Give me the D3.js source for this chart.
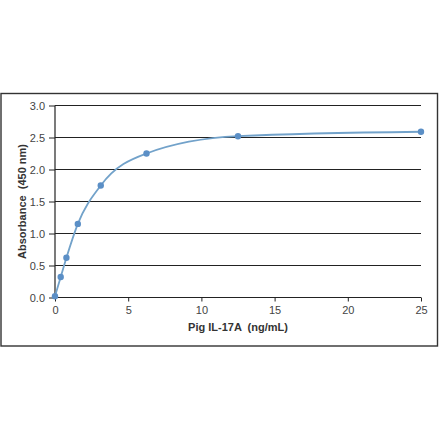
<!DOCTYPE html>
<html>
<head>
<meta charset="utf-8">
<script src="https://cdn.jsdelivr.net/npm/d3@7"></script>
<style>
  body { margin: 0; background: #fff; }
  svg { display: block; font-family: "Liberation Sans", Arial, sans-serif; }
</style>
</head>
<body>
<svg id="chart" width="440" height="441"></svg>
<script>
// standard curve readings
var concentration = [0, 0.39, 0.78, 1.56, 3.125, 6.25, 12.5, 25];
var absorbance = [0.02, 0.32, 0.62, 1.15, 1.75, 2.25, 2.52, 2.59];
var xTicks = [0, 5, 10, 15, 20, 25];
var yTicks = [0, 0.5, 1, 1.5, 2, 2.5, 3];

var svg = d3.select("#chart");

var box = { left: 1, top: 93.5, right: 437.5, bottom: 346 };
var plot = { left: 55, right: 421, top: 105.5, bottom: 297.5 };

svg.append("rect")
  .attr("x", box.left)
  .attr("y", box.top)
  .attr("width", box.right - box.left)
  .attr("height", box.bottom - box.top)
  .attr("fill", "none")
  .attr("stroke", "#333")
  .attr("stroke-width", 1.4);

var x = d3.scaleLinear().domain([0, 25]).range([plot.left, plot.right]);
var y = d3.scaleLinear().domain([0, 3]).range([plot.bottom, plot.top]);

// gridlines
svg.append("g")
  .selectAll("line")
  .data(yTicks.filter(function(d) { return d > 0; }))
  .enter().append("line")
  .attr("x1", plot.left)
  .attr("x2", plot.right)
  .attr("y1", function(d) { return y(d); })
  .attr("y2", function(d) { return y(d); })
  .attr("stroke", "#222")
  .attr("stroke-width", 1.1);

var yAxis = svg.append("g")
  .attr("transform", "translate(" + plot.left + ",0)")
  .call(d3.axisLeft(y).tickValues(yTicks).tickSize(6).tickPadding(4)
    .tickFormat(d3.format(".1f")));

var xAxis = svg.append("g")
  .attr("transform", "translate(0," + plot.bottom + ")")
  .call(d3.axisBottom(x).tickValues(xTicks).tickSize(4).tickPadding(5));

[yAxis, xAxis].forEach(function(a) {
  a.select(".domain").attr("stroke", "#222").attr("stroke-width", 1.2);
  a.selectAll(".tick line").attr("stroke", "#222");
  a.selectAll(".tick text")
    .attr("fill", "#444")
    .style("font-size", "11px")
    .style("font-family", "'Liberation Sans', Arial, sans-serif");
});
yAxis.select(".domain").attr("d", "M0," + plot.bottom + "V" + plot.top);
xAxis.select(".domain").attr("d", "M" + plot.left + ",0H" + plot.right);

// axis titles
svg.append("text")
  .attr("transform", "translate(26," + ((plot.top + plot.bottom) / 2) + ") rotate(-90)")
  .attr("text-anchor", "middle")
  .attr("fill", "#333")
  .style("font-size", "11px")
  .style("font-weight", "bold")
  .style("white-space", "pre")
  .text("Absorbance  (450 nm)");

svg.append("text")
  .attr("x", (plot.left + plot.right) / 2)
  .attr("y", 331)
  .attr("text-anchor", "middle")
  .attr("fill", "#333")
  .style("font-size", "11px")
  .style("font-weight", "bold")
  .style("white-space", "pre")
  .text("Pig IL-17A  (ng/mL)");

var points = concentration.map(function(c, i) { return [c, absorbance[i]]; });

var line = d3.line()
  .x(function(d) { return x(d[0]); })
  .y(function(d) { return y(d[1]); })
  .curve(d3.curveMonotoneX);

svg.append("path")
  .attr("d", line(points))
  .attr("fill", "none")
  .attr("stroke", "#72a2ca")
  .attr("stroke-width", 1.8);

svg.append("g")
  .selectAll("circle")
  .data(points)
  .enter().append("circle")
  .attr("cx", function(d) { return x(d[0]); })
  .attr("cy", function(d) { return y(d[1]); })
  .attr("r", 3.2)
  .attr("fill", "#5b8fc6");
</script>
</body>
</html>
